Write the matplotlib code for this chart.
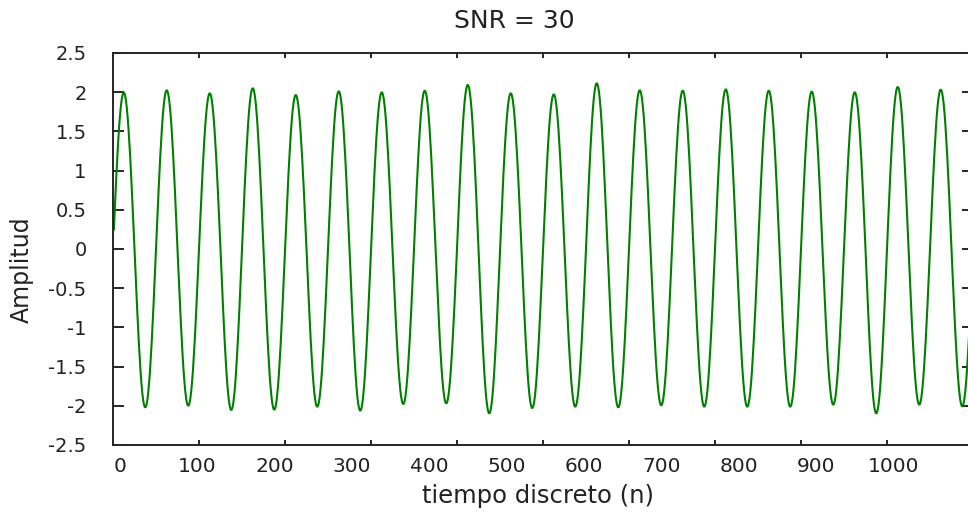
import numpy as np
import matplotlib
matplotlib.use("Agg")
import matplotlib.pyplot as plt
from matplotlib.ticker import FixedLocator, FixedFormatter, NullFormatter

# ---- data ----
n_start, n_end = 1, 1000          # discrete time samples
period = 50                        # samples per cycle
# height of each positive lobe (one per cycle) and depth of each negative lobe
peak_values = [1.996, 2.026, 1.987, 2.051, 1.966, 2.013, 2.000, 2.021, 2.094, 1.987,
               1.974, 2.115, 2.026, 2.021, 2.038, 2.021, 2.009, 2.000, 2.068, 2.034]
trough_values = [-2.021, -2.000, -2.055, -2.051, -2.013, -2.064, -1.979, -1.970, -2.098, -2.030,
                 -2.013, -2.021, -1.996, -2.013, -2.013, -2.013, -1.987, -2.098, -1.987, -2.009]
x_tick_values = [0, 100, 200, 300, 400, 500, 600, 700, 800, 900, 1000]
x_tick_labels = ["0", "100", "200", "300", "400", "500", "600", "700", "800", "900", "1000"]
y_tick_values = [-2.5, -2, -1.5, -1, -0.5, 0, 0.5, 1, 1.5, 2, 2.5]
y_tick_labels = ["-2.5", "-2", "-1.5", "-1", "-0.5", "0", "0.5", "1", "1.5", "2", "2.5"]
title_text = "SNR = 30"
xlabel_text = "tiempo discreto (n)"
ylabel_text = "Amplitud"

# ---- build the sampled signal: one lobe per half cycle, scaled to the read extrema ----
n = np.arange(n_start, n_end + 1)
cyc = np.minimum(n // period, len(peak_values) - 1)
unit = np.sin(2 * np.pi * n / period)
lobe = np.where(unit >= 0, np.array(peak_values)[cyc], -np.array(trough_values)[cyc]) / 2.0
signal = 2.0 * unit * lobe

W, H = 968, 517
fig = plt.figure(figsize=(W / 100, H / 100), dpi=100)
plt.rcParams['font.family'] = ['DejaVu Sans']
ax = fig.add_axes([113 / W, 1 - 445 / H, 860 / W, 392 / H])

ax.plot(n, signal, color="#008000", linewidth=1.5)
ax.set_xlim(0, 1000)
ax.set_ylim(-2.5, 2.5)

spine_col = "#262626"
for s in ax.spines.values():
    s.set_linewidth(1.4)
    s.set_color(spine_col)

# major x ticks (marks only), labels drawn where the reference shows them
ax.xaxis.set_major_locator(FixedLocator(x_tick_values))
ax.xaxis.set_major_formatter(NullFormatter())
label_pos = [8 + 90 * i for i in range(len(x_tick_labels))]
ax.xaxis.set_minor_locator(FixedLocator(label_pos))
ax.xaxis.set_minor_formatter(FixedFormatter(x_tick_labels))
ax.tick_params(axis="x", which="major", direction="in", length=3.8, width=1.4,
               color=spine_col, top=True, bottom=True)
ax.tick_params(axis="x", which="minor", length=0, pad=9, labelsize=14.5,
               labelcolor="#222222", top=False)

ax.set_yticks(y_tick_values)
ax.set_yticklabels(y_tick_labels)
ax.tick_params(axis="y", which="major", direction="in", length=7.7, width=1.4,
               color=spine_col, left=True, right=True, pad=19, labelsize=14,
               labelcolor="#222222")

fig.text(514.5 / W, 1 - 21.5 / H, title_text, ha="center", va="center",
         fontsize=18, color="#222222")
fig.text(538.5 / W, 1 - 496 / H, xlabel_text, ha="center", va="center",
         fontsize=17.5, color="#222222")
fig.text(22 / W, 1 - 270 / H, ylabel_text, ha="center", va="center",
         rotation=90, fontsize=17, color="#222222")

fig.savefig("out.png", dpi=100)
